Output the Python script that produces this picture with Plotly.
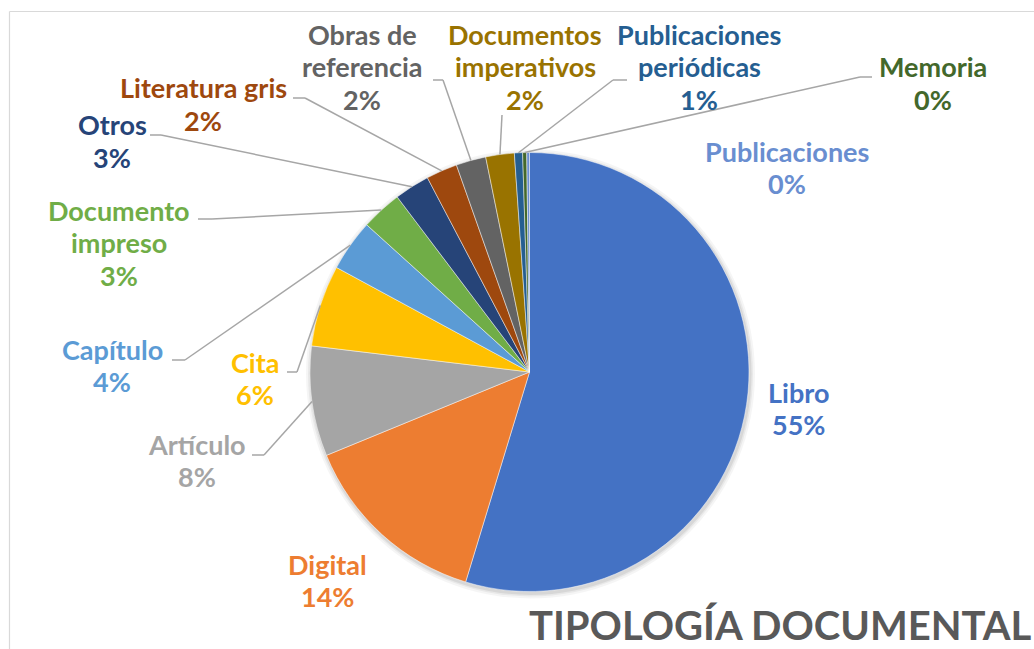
import math
import plotly.graph_objects as go

W, H = 1034, 649

# ---------------- data ----------------
categories = ["Libro", "Digital", "Artículo", "Cita", "Capítulo", "Documento impreso",
              "Otros", "Literatura gris", "Obras de referencia", "Documentos imperativos",
              "Publicaciones periódicas", "Memoria", "Publicaciones"]
values = [547, 141, 81, 60, 38, 30, 26, 23, 22, 21, 6, 3, 2]
display_lines = [["Libro"], ["Digital"], ["Artículo"], ["Cita"], ["Capítulo"],
                 ["Documento", "impreso"], ["Otros"], ["Literatura gris"],
                 ["Obras de", "referencia"], ["Documentos", "imperativos"],
                 ["Publicaciones", "periódicas"], ["Memoria"], ["Publicaciones"]]
title_text = "TIPOLOGÍA DOCUMENTAL"

# ---------------- styles / layout ----------------
colors = ["#4472C4", "#ED7D31", "#A5A5A5", "#FFC000", "#5B9BD5", "#70AD47",
          "#264478", "#9E480E", "#636363", "#997300", "#255E91", "#43682B", "#698ED0"]
cx, cy, R = 529.5, 372.0, 219.5          # pie centre / radius in pixels
# label centre (x, y of first line) in pixels
label_pos = [(798, 393), (327, 565), (197, 445), (255, 363), (112, 350), (119, 211),
             (112, 126), (203, 89), (362, 35), (525, 35), (699, 35), (933, 68), (787, 152)]
LINE_GAP = 32.5
# leader line: (x_start, y, x_elbow) or None
leaders = [None, None, (252, 455, 264), (287, 372, 297), (172, 360, 185), (198, 219, 212),
           (150, 135, 161), (293, 98, 305), (433, 80, 443), (502, 115, 502),
           (627, 80, 613), (872, 77, 860), None]

FONT = "Lato"
LABEL_SIZE = 27


def px(x):
    return x / W


def py(y):
    return 1 - y / H


total = sum(values)
fig = go.Figure()

# soft shadow behind the pie
for grow, alpha in [(5, 0.04), (3, 0.05), (1.5, 0.07)]:
    r = R + grow
    fig.add_trace(go.Pie(values=[1], marker=dict(colors=[f"rgba(0,0,0,{alpha})"]),
                         textinfo="none", hoverinfo="skip", showlegend=False, sort=False,
                         domain=dict(x=[px(cx - r + 1), px(cx + r + 1)],
                                     y=[py(cy + r + 2), py(cy - r + 2)])))

fig.add_trace(go.Pie(
    labels=categories, values=values, sort=False, direction="clockwise", rotation=0,
    marker=dict(colors=colors, line=dict(color="rgba(255,255,255,0.6)", width=0.8)),
    textinfo="none", showlegend=False,
    domain=dict(x=[px(cx - R), px(cx + R)], y=[py(cy + R), py(cy - R)]),
))

annotations = []
shapes = []
cum = 0
for i, v in enumerate(values):
    frac = v / total
    mid = (cum + frac / 2) * 2 * math.pi
    cum += frac
    pct = round(100 * frac)
    lx, ly = label_pos[i]
    lines = display_lines[i] + [f"{pct}%"]
    for k, txt in enumerate(lines):
        annotations.append(dict(
            x=px(lx), y=py(ly + k * LINE_GAP - 1), xref="paper", yref="paper",
            xanchor="center", yanchor="middle", text=f"<b>{txt}</b>", showarrow=False,
            font=dict(family=FONT, size=LABEL_SIZE, color=colors[i])))
    if leaders[i] is not None:
        xs, ys, xe = leaders[i]
        ex = cx + R * math.sin(mid)
        ey = cy - R * math.cos(mid)
        for (a, b, c, d) in [(xs, ys, xe, ys), (xe, ys, ex, ey)]:
            shapes.append(dict(type="line", xref="paper", yref="paper",
                               x0=px(a), y0=py(b), x1=px(c), y1=py(d),
                               line=dict(color="#A6A6A6", width=1.5)))

# chart area border (top & left visible)
shapes.append(dict(type="line", xref="paper", yref="paper", x0=px(9.5), y0=py(11.5),
                   x1=1.0, y1=py(11.5), line=dict(color="#D9D9D9", width=1.2)))
shapes.append(dict(type="line", xref="paper", yref="paper", x0=px(9.5), y0=py(11.5),
                   x1=px(9.5), y1=0.0, line=dict(color="#D9D9D9", width=1.2)))

annotations.append(dict(x=px(527), y=py(625), xref="paper", yref="paper", xanchor="left",
                        yanchor="middle", text=f"<b>{title_text}</b>", showarrow=False,
                        font=dict(family=FONT, size=40, color="#595959")))

fig.update_layout(width=W, height=H, margin=dict(l=0, r=0, t=0, b=0),
                  paper_bgcolor="white", plot_bgcolor="white",
                  annotations=annotations, shapes=shapes)
fig.write_html("out.html", config={"displayModeBar": False},
               post_script="document.body.style.margin='0';document.body.style.overflow='hidden';")
